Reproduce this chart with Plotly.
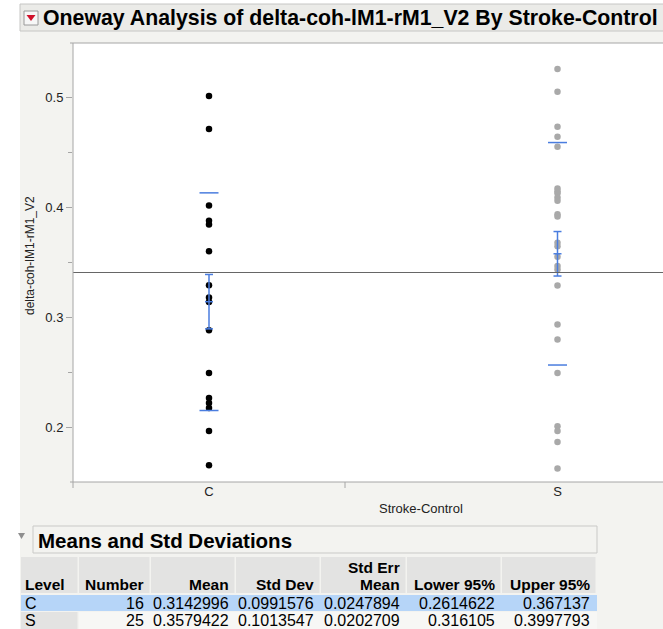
import plotly.graph_objects as go

# ---------------- data ----------------
levels = ["C", "S"]
counts = [16, 25]
means = [0.3142996, 0.3579422]
std_devs = [0.0991576, 0.1013547]
std_errs = [0.0247894, 0.0202709]
lower95 = [0.2614622, 0.316105]
upper95 = [0.367137, 0.3997793]

c_values = [0.5017, 0.4716, 0.4020, 0.3880, 0.3847, 0.3603, 0.3293, 0.3181,
            0.3140, 0.2883, 0.2494, 0.2266, 0.2220, 0.2175, 0.1965, 0.1652]
s_values = [0.5263, 0.5056, 0.4737, 0.4646, 0.4555, 0.4175, 0.4150, 0.4130,
            0.4093, 0.4062, 0.3940, 0.3920, 0.3679, 0.3649, 0.3552, 0.3467,
            0.3437, 0.3290, 0.2935, 0.2798, 0.2494, 0.2008, 0.1965, 0.1865,
            0.1622]
group_values = [c_values, s_values]
group_colors = ["#000000", "#a9a9a9"]

y_ticks = [0.2, 0.3, 0.4, 0.5]
title_text = "Oneway Analysis of delta-coh-lM1-rM1_V2 By Stroke-Control"
y_title = "delta-coh-lM1-rM1_V2"
x_title = "Stroke-Control"
table_title = "Means and Std Deviations"
table_headers = ["Level", "Number", "Mean", "Std Dev", "Std Err\nMean", "Lower 95%", "Upper 95%"]

# ---------------- geometry ----------------
W, H = 663, 629
L, T, B = 73, 43, 482
PW, PH = W - L, B - T
PX_PER_UNIT = 17.0
x_max = PW / PX_PER_UNIT

def X(px):
    return (px - L) / PW

def Y(py):
    return (B - py) / PH

FONT = "Helvetica, Arial, Liberation Sans, sans-serif"
BLUE = "#4a7ddf"
AX = "#a6a6a6"

# x centres from the counts (proportional widths)
edges = [0]
for n in counts:
    edges.append(edges[-1] + n)
centers = [(edges[i] + edges[i + 1]) / 2 for i in range(len(counts))]
grand_mean = sum(n * m for n, m in zip(counts, means)) / sum(counts)

fig = go.Figure()

for i, lv in enumerate(levels):
    vals = group_values[i]
    fig.add_trace(go.Scatter(
        x=[centers[i]] * len(vals), y=vals, mode="markers",
        marker=dict(color=group_colors[i], size=6.5), showlegend=False, hoverinfo="y"))
    cx, m, sd, se = centers[i], means[i], std_devs[i], std_errs[i]
    hw = 9.5 / PX_PER_UNIT
    cw = 4.0 / PX_PER_UNIT
    for yy in (m - sd, m + sd):
        fig.add_trace(go.Scatter(x=[cx - hw, cx + hw], y=[yy, yy], mode="lines",
                                 line=dict(color=BLUE, width=1.5), showlegend=False, hoverinfo="skip"))
    fig.add_trace(go.Scatter(x=[cx, cx], y=[m - se, m + se], mode="lines",
                             line=dict(color=BLUE, width=1.5), showlegend=False, hoverinfo="skip"))
    for yy in (m - se, m, m + se):
        fig.add_trace(go.Scatter(x=[cx - cw, cx + cw], y=[yy, yy], mode="lines",
                                 line=dict(color=BLUE, width=1.5), showlegend=False, hoverinfo="skip"))

fig.add_trace(go.Scatter(x=[0, x_max], y=[grand_mean, grand_mean], mode="lines",
                         line=dict(color="#666666", width=1.2), showlegend=False, hoverinfo="skip"))

shapes = []
def rect(x0, y0, x1, y1, fill, line=None, lw=1, layer="below"):
    shapes.append(dict(type="rect", xref="paper", yref="paper",
                       x0=X(x0), x1=X(x1), y0=Y(y1), y1=Y(y0), fillcolor=fill,
                       line=dict(color=line or fill, width=lw if line else 0), layer=layer))

def hline(x0, x1, y, color, w=1):
    shapes.append(dict(type="line", xref="paper", yref="paper", x0=X(x0), x1=X(x1),
                       y0=Y(y), y1=Y(y), line=dict(color=color, width=w), layer="above"))

def vline(x, y0, y1, color, w=1):
    shapes.append(dict(type="line", xref="paper", yref="paper", x0=X(x), x1=X(x),
                       y0=Y(y0), y1=Y(y1), line=dict(color=color, width=w), layer="above"))

rect(0, 0, 20, H, "#ffffff")
rect(0, 0, W + 5, 4, "#ffffff")
rect(20, 4, W + 5, 31, "#ebebe8", "#c6c6c4")
rect(24, 11, 38, 25, "#f7f7f7", "#9a9a9a", layer="above")
shapes.append(dict(type="path", xref="paper", yref="paper",
                   path=f"M {X(26.5)} {Y(15)} L {X(35.5)} {Y(15)} L {X(31)} {Y(21)} Z",
                   fillcolor="#d0112b", line=dict(width=0), layer="above"))

hline(70, W + 5, T, AX)
hline(70, W + 5, B, AX)
vline(L, T, B + 6, AX)
shapes.append(dict(type="line", xref="x", yref="paper", x0=edges[1], x1=edges[1],
                   y0=Y(B), y1=Y(B + 6), line=dict(color=AX, width=1)))

rect(33, 526, 597, 553, "#f3f3f0", "#c9c9c7")
shapes.append(dict(type="path", xref="paper", yref="paper",
                   path=f"M {X(18)} {Y(533)} L {X(25)} {Y(533)} L {X(21.5)} {Y(539)} Z",
                   fillcolor="#8e8e8e", line=dict(width=0), layer="above"))
col_edges = [21, 79, 151, 236, 321, 407, 502, 597]
HDR_T, HDR_B = 557, 593
ROW1_T, ROW1_B = 595, 611
ROW2_T, ROW2_B = 612, 629
for k in range(len(col_edges) - 1):
    rect(col_edges[k], HDR_T, col_edges[k + 1] - 1.5, HDR_B, "#e3e3e2")
rect(col_edges[0], ROW1_T, col_edges[-1], ROW1_B, "#b6d5f8")
rect(col_edges[0], ROW2_T, col_edges[1] - 1.5, ROW2_B + 5, "#e3e3e2")
rect(col_edges[1], ROW2_T, col_edges[-1], ROW2_B + 5, "#f7f7f5")

annotations = []
def text(x, y, s, size, bold=False, xanchor="left", color="#111111", angle=0):
    annotations.append(dict(xref="paper", yref="paper", x=X(x), y=Y(y), text=f"<b>{s}</b>" if bold else s,
                            showarrow=False, xanchor=xanchor, yanchor="middle", textangle=angle,
                            font=dict(family=FONT, size=size, color=color)))

text(41, 18, title_text, 21.3, bold=True, color="#000000")
text(30, 256, y_title, 12, angle=-90, xanchor="center", color="#222222")
text(421, 508, x_title, 13, xanchor="center", color="#222222")
text(36, 540, table_title, 20.5, bold=True, color="#000000")

hdr_bottom = 584
hdr_top = 567
for k, h in enumerate(table_headers):
    parts = h.split("\n")
    if k == 0:
        text(col_edges[0] + 2, hdr_bottom, parts[-1], 15.5, bold=True, color="#000000")
    else:
        text(col_edges[k + 1] - 5, hdr_bottom, parts[-1], 15.5, bold=True, xanchor="right", color="#000000")
        if len(parts) > 1:
            text(col_edges[k + 1] - 5, hdr_top, parts[0], 15.5, bold=True, xanchor="right", color="#000000")

row_y = [603, 620.5]
for i, lv in enumerate(levels):
    cells = [str(counts[i]), f"{means[i]:.7g}", f"{std_devs[i]:.7g}", f"{std_errs[i]:.7g}",
             f"{lower95[i]:.7g}", f"{upper95[i]:.7g}"]
    text(col_edges[0] + 2, row_y[i], lv, 16, color="#000000")
    for k, c in enumerate(cells):
        text(col_edges[k + 2] - 5, row_y[i], c, 16, xanchor="right", color="#000000")

fig.update_layout(
    width=W, height=H,
    margin=dict(l=L, r=0, t=T, b=H - B, pad=0),
    paper_bgcolor="#f3f3f0", plot_bgcolor="#ffffff",
    showlegend=False,
    shapes=shapes, annotations=annotations,
    xaxis=dict(range=[0, x_max], tickvals=centers, ticktext=levels, ticks="",
               showgrid=False, zeroline=False, showline=False, automargin=False,
               tickfont=dict(family=FONT, size=13, color="#222222"), fixedrange=True),
    yaxis=dict(range=[0.15, 0.55], tickvals=y_ticks, ticktext=[f"{v:.1f}" for v in y_ticks],
               ticks="outside", ticklen=6, tickcolor=AX, tickwidth=1,
               minor=dict(tickvals=[0.25, 0.35, 0.45], ticks="outside", ticklen=4, tickcolor=AX),
               showgrid=False, zeroline=False, showline=False, automargin=False,
               tickfont=dict(family=FONT, size=13, color="#222222"), fixedrange=True),
)

fig.write_html("out.html", config={"displayModeBar": False},
               post_script="document.body.style.margin='0';document.body.style.overflow='hidden';")
